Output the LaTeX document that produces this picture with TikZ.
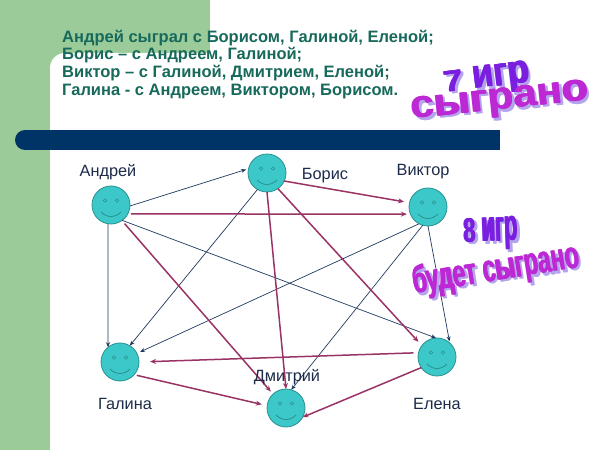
\documentclass[tikz,border=0pt]{standalone}
\usepackage{fontspec}
\setmainfont{Liberation Sans}
\usepackage{graphicx}
\usetikzlibrary{arrows.meta}
\definecolor{bggreen}{HTML}{9CCB9A}
\definecolor{barnavy}{HTML}{003366}
\definecolor{titlecol}{HTML}{17695B}
\definecolor{facefill}{HTML}{3CC8C8}
\definecolor{faceline}{HTML}{2A9090}
\definecolor{playedcol}{HTML}{1F3A5F}
\definecolor{futurecol}{HTML}{993366}
\definecolor{labelcol}{HTML}{1C2B4A}
\definecolor{wavio}{HTML}{7A1FE0}
\definecolor{wamag}{HTML}{BC28D4}
\definecolor{washadow}{HTML}{B4A4EC}
\begin{document}
\begin{tikzpicture}[x=1bp,y=-1bp,
  face/.style={circle, minimum size=38bp, inner sep=0pt, outer sep=0pt,
    fill=facefill, draw=faceline, line width=0.8bp,
    path picture={
      \draw[faceline, line width=0.6bp]
        ([shift={(-6,-4.5)}]path picture bounding box.center) circle (1.7)
        ([shift={(6,-4.5)}]path picture bounding box.center) circle (1.7);
      \draw[faceline, line width=0.8bp]
        ([shift={(-10,7)}]path picture bounding box.center) .. controls
        ([shift={(-4,13)}]path picture bounding box.center) and
        ([shift={(4,13)}]path picture bounding box.center) ..
        ([shift={(10,7)}]path picture bounding box.center);
    }},
  titleline/.style={anchor=base west, inner sep=0pt, text=titlecol,
    font=\fontsize{16.5bp}{18bp}\selectfont\bfseries},
  namelabel/.style={text=labelcol, font=\fontsize{16.3bp}{19bp}\selectfont, inner sep=0pt},
  played/.style={draw=playedcol, line width=0.7bp, -{Stealth[length=5bp,width=4bp]}},
  future/.style={draw=futurecol, line width=1.5bp, -{Stealth[length=6bp,width=5bp]}},
  wordart/.style={inner sep=0pt, font=\bfseries},
  washade/.style={wordart, text=washadow},
]
\useasboundingbox (0,0) rectangle (600,450);
% background
\fill[white] (0,0) rectangle (600,450);
\fill[bggreen] (0,0) rectangle (210,450);
\fill[white] (50,450) [rounded corners=15bp] -- (50,53) -- (230,53) [sharp corners] -- (230,450) -- cycle;
\fill[barnavy] (25,130) rectangle (500,150);
\fill[barnavy] (25,140) circle (10);
% title text
\node[titleline] (t1) at (62,42.3) {Андрей сыграл с Борисом, Галиной, Еленой;};
\node[titleline] (t2) at (62,60) {Борис – с Андреем, Галиной;};
\node[titleline] (t3) at (62,77.7) {Виктор – с Галиной, Дмитрием, Еленой;};
\node[titleline] (t4) at (62,95.2) {Галина - с Андреем, Виктором, Борисом.};
% faces
\node[face] (A) at (111,205) {};
\node[face] (B) at (267,173) {};
\node[face] (V) at (428,207) {};
\node[face] (G) at (120,362) {};
\node[face] (E) at (437,357) {};
\node[face] (D) at (286,408) {};
% played games
\draw[played, shorten >=2.5bp] (A.-3) -- (B.167);
\draw[played] (A.-99) -- (G.129);
\draw[played] (A.-54) -- (E.93);
\draw[played] (B.-120) -- (G.59);
\draw[played, shorten >=3.5bp] (V.-118) -- (G.27);
\draw[played] (V.-106) -- (D.74);
\draw[played, shorten >=1.5bp] (V.-90) -- (E.48);
% future games
\draw[future, shorten >=5.5bp] (B.-25) -- (V.167.5);
\draw[future, shorten >=3.5bp, shorten <=3bp] (A.-28.5) -- (V.-158);
\draw[future, shorten >=3.4bp, shorten <=4bp] (A.-55) -- (D.133);
\draw[future] (B.-90) -- (D.90);
\draw[future, shorten >=5bp] (B.-55) -- (E.143.5);
\draw[future, shorten >=11bp, shorten <=5bp] (E.167) -- (G.0);
\draw[future, shorten >=5.5bp, shorten <=2.7bp] (G.-42.6) -- (D.173);
\draw[future] (E.-146) -- (D.-29);
% name labels
\node[namelabel] (lA) at (108,172) {Андрей};
\node[namelabel] (lB) at (325,176) {Борис};
\node[namelabel] (lV) at (423,172) {Виктор};
\node[namelabel] (lG) at (125,404) {Галина};
\node[namelabel] (lD) at (287,377) {Дмитрий};
\node[namelabel] (lE) at (437,404) {Елена};
% word art
\newcommand{\sevenTxt}{\resizebox{86bp}{22bp}{7 \scalebox{1}[1.36]{игр}}}
\newcommand{\playedTxt}{\resizebox{178bp}{21bp}{сыграно}}
\newcommand{\eightTxt}{\resizebox{54bp}{24bp}{8 \scalebox{1}[1.3]{игр}}}
\newcommand{\willTxt}{\resizebox{168bp}{28bp}{будет сыграно}}
\foreach \dx in {-0.6,0.6} {
  \node[washade, rotate=7] at (489.5+\dx,83) {\sevenTxt};
  \node[washade, rotate=6] at (502.5+\dx,105.5) {\playedTxt};
  \node[washade, rotate=2] at (493.5+\dx,236.5) {\eightTxt};
  \node[washade, rotate=9] at (498.5+\dx,273) {\willTxt};
}
\foreach \dx in {-0.6,0.6} {
  \node[wordart, text=wavio, rotate=7] at (487+\dx,80.5) {\sevenTxt};
  \node[wordart, text=wamag, rotate=6] at (500+\dx,103) {\playedTxt};
  \node[wordart, text=wavio, rotate=2] at (491+\dx,234) {\eightTxt};
  \node[wordart, text=wamag, rotate=9] at (496+\dx,270.5) {\willTxt};
}
\node[wordart, text=wavio, rotate=7] (w1) at (487,80.5) {\sevenTxt};
\node[wordart, text=wamag, rotate=6] (w2) at (500,103) {\playedTxt};
\node[wordart, text=wavio, rotate=2] (w3) at (491,234) {\eightTxt};
\node[wordart, text=wamag, rotate=9] (w4) at (496,270.5) {\willTxt};
\end{tikzpicture}
\end{document}
